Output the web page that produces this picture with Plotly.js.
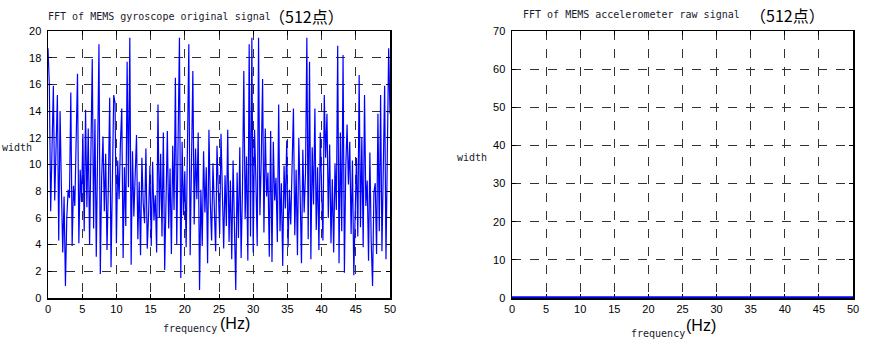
<!DOCTYPE html>
<html>
<head>
<meta charset="utf-8">
<script src="https://cdn.plot.ly/plotly-3.0.1.min.js"></script>
<style>html,body{margin:0;padding:0;background:#fff;}#chart{width:884px;height:353px;}</style>
</head>
<body>
<div id="chart"></div>
<script>
// Gyroscope FFT magnitude (256 bins, 0-50 Hz)
const gyroAmp = [
18.7, 16.0, 6.5, 11.5, 15.9, 7.3, 12.6, 15.2, 4.3, 14.0, 8.2, 3.4, 7.6, 0.9, 6.0, 8.1,
7.5, 15.4, 3.9, 8.4, 6.9, 11.8, 16.8, 4.1, 9.6, 7.2, 12.3, 5.0, 14.1, 6.8, 12.7, 4.0,
10.6, 17.9, 5.2, 13.4, 3.1, 11.7, 19.0, 1.8, 9.0, 12.1, 6.5, 10.8, 3.6, 8.4, 15.0, 2.3,
8.6, 15.2, 14.6, 4.1, 10.3, 7.4, 11.6, 14.2, 3.0, 9.8, 5.4, 17.7, 8.3, 19.5, 2.5, 11.0,
6.1, 9.4, 12.2, 4.4, 8.7, 3.2, 10.5, 7.1, 5.6, 11.2, 3.7, 6.3, 9.9, 3.9, 10.2, 5.8,
7.7, 3.4, 14.5, 6.0, 10.8, 4.6, 12.4, 2.1, 8.9, 12.5, 5.2, 9.7, 3.3, 11.4, 6.6, 16.5,
4.0, 11.8, 19.5, 1.5, 11.7, 6.2, 9.5, 3.8, 10.9, 19.0, 3.2, 9.6, 17.0, 5.5, 11.2, 7.4,
12.4, 0.6, 8.1, 3.9, 11.0, 6.4, 9.8, 2.6, 12.6, 7.2, 4.3, 10.1, 5.8, 3.5, 11.4, 7.9,
4.8, 12.3, 6.9, 3.7, 9.2, 5.4, 12.6, 4.2, 8.8, 2.9, 10.3, 6.0, 0.6, 9.4, 4.5, 11.3,
3.0, 8.1, 17.0, 5.9, 10.6, 2.8, 19.0, 4.6, 19.5, 3.4, 12.6, 8.9, 3.9, 19.5, 6.2, 10.3,
16.4, 4.9, 12.7, 7.6, 9.4, 3.1, 12.5, 2.7, 11.7, 7.3, 9.0, 4.2, 14.5, 5.0, 8.6, 2.4,
9.9, 6.7, 11.8, 3.8, 8.1, 5.5, 10.4, 14.2, 4.7, 9.6, 3.2, 12.0, 7.8, 2.6, 11.1, 6.4,
9.4, 19.5, 4.4, 17.7, 2.9, 11.3, 7.0, 14.2, 5.1, 9.8, 3.6, 12.4, 8.2, 4.3, 15.2, 10.5,
13.8, 6.0, 11.5, 4.1, 8.9, 3.4, 10.1, 6.6, 18.9, 2.6, 12.4, 5.0, 18.2, 1.9, 9.7, 13.0,
8.5, 11.7, 4.8, 10.3, 1.7, 7.4, 10.5, 4.6, 16.7, 5.3, 12.0, 3.8, 15.2, 6.9, 8.8, 2.8,
10.9, 4.2, 0.9, 7.9, 8.6, 3.3, 13.8, 5.0, 15.2, 3.5, 9.9, 15.9, 2.9, 12.6, 18.7, 13.8
];
const gyroStartHz = 0;
const gyroStepHz = 50 / 255;

// Accelerometer FFT magnitude (flat at zero on this scale)
const accFreq = [0, 5, 10, 15, 20, 25, 30, 35, 40, 45, 50];
const accAmp  = [0, 0, 0, 0, 0, 0, 0, 0, 0, 0, 0];

const xTicks = [0, 5, 10, 15, 20, 25, 30, 35, 40, 45, 50];
const leftYTicks = [0, 2, 4, 6, 8, 10, 12, 14, 16, 18, 20];
const rightYTicks = [0, 10, 20, 30, 40, 50, 60, 70];

const titleLeft = "FFT of MEMS gyroscope original signal";
const titleRight = "FFT of MEMS accelerometer raw signal";
const titleSuffix = "（512点）";
const yLabel = "width";
const xLabel = "frequency";
const xUnit = "(Hz)";

const W = 884, H = 353;
const px = v => v / W;
const py = v => 1 - v / H;

const tickFont = {family: "Liberation Sans, Arial, sans-serif", size: 11, color: "#000"};
const monoFont = {family: "DejaVu Sans Mono, monospace", size: 10, color: "#1a1a2e"};
const cjkFont = {family: "Noto Sans CJK SC, sans-serif", size: 16, color: "#000"};

function axisBase(extra) {
  return Object.assign({
    showline: true, linecolor: "#000", linewidth: 1.5, mirror: "ticks",
    ticks: "inside", ticklen: 4, tickcolor: "#000", tickwidth: 1,
    showgrid: true, gridcolor: "#333", gridwidth: 1, griddash: "dash",
    zeroline: false, tickfont: tickFont, fixedrange: true
  }, extra);
}

const traces = [
  {type: "scatter", mode: "lines", x0: gyroStartHz, dx: gyroStepHz, y: gyroAmp,
   xaxis: "x", yaxis: "y", line: {color: "#0000ff", width: 1.2}, hoverinfo: "skip"},
  {type: "scatter", mode: "lines", x: accFreq, y: accAmp,
   xaxis: "x2", yaxis: "y2", line: {color: "#0000ff", width: 3.5}, hoverinfo: "skip"}
];

const yDom = [(H - 298) / H, (H - 31) / H];

const layout = {
  width: W, height: H,
  margin: {l: 0, r: 0, t: 0, b: 0},
  paper_bgcolor: "#fff", plot_bgcolor: "#fff",
  showlegend: false,
  xaxis: axisBase({domain: [px(48), px(390)], range: [0, 50], tickvals: xTicks, anchor: "y"}),
  yaxis: axisBase({domain: yDom, range: [0, 20], tickvals: leftYTicks, anchor: "x", ticklabelstandoff: 3}),
  xaxis2: axisBase({domain: [px(512), px(853)], range: [0, 50], tickvals: xTicks, anchor: "y2", layer: "below traces"}),
  yaxis2: axisBase({domain: yDom, range: [0, 70], tickvals: rightYTicks, anchor: "x2", ticklabelstandoff: 3}),
  annotations: [
    {text: titleLeft, x: px(46), y: py(16), xref: "paper", yref: "paper", xanchor: "left", yanchor: "middle", showarrow: false, font: monoFont},
    {text: titleSuffix, x: px(267), y: py(16), xref: "paper", yref: "paper", xanchor: "left", yanchor: "middle", showarrow: false, font: cjkFont},
    {text: titleRight, x: px(521), y: py(15), xref: "paper", yref: "paper", xanchor: "left", yanchor: "middle", showarrow: false, font: monoFont},
    {text: titleSuffix, x: px(748), y: py(15), xref: "paper", yref: "paper", xanchor: "left", yanchor: "middle", showarrow: false, font: cjkFont},
    {text: yLabel, x: px(0), y: py(147), xref: "paper", yref: "paper", xanchor: "left", yanchor: "middle", showarrow: false, font: monoFont},
    {text: yLabel, x: px(455), y: py(157), xref: "paper", yref: "paper", xanchor: "left", yanchor: "middle", showarrow: false, font: monoFont},
    {text: xLabel, x: px(161), y: py(328), xref: "paper", yref: "paper", xanchor: "left", yanchor: "middle", showarrow: false, font: monoFont},
    {text: xUnit, x: px(218), y: py(323), xref: "paper", yref: "paper", xanchor: "left", yanchor: "middle", showarrow: false, font: {family: "Liberation Sans, Arial, sans-serif", size: 16, color: "#000"}},
    {text: xLabel, x: px(629), y: py(333), xref: "paper", yref: "paper", xanchor: "left", yanchor: "middle", showarrow: false, font: monoFont},
    {text: xUnit, x: px(684), y: py(325), xref: "paper", yref: "paper", xanchor: "left", yanchor: "middle", showarrow: false, font: {family: "Liberation Sans, Arial, sans-serif", size: 16, color: "#000"}}
  ]
};

Plotly.newPlot("chart", traces, layout, {staticPlot: true, displayModeBar: false});
</script>
</body>
</html>
